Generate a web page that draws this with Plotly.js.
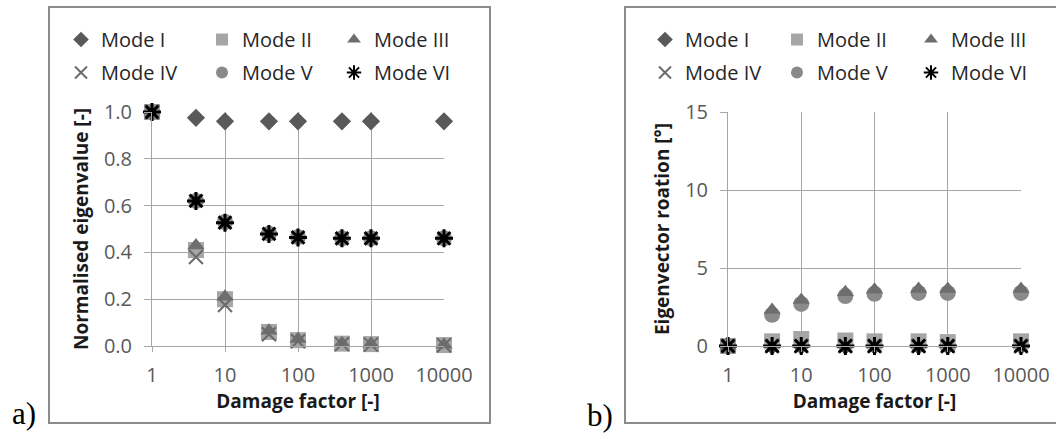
<!DOCTYPE html>
<html><head><meta charset="utf-8">
<script src="https://cdn.plot.ly/plotly-3.0.1.min.js"></script>
<style>html,body{margin:0;padding:0;background:#fff}#chart{width:1056px;height:435px}</style>
</head><body><div id="chart"></div>
<script>
// ---- data ----
const damageFactor = [1, 4, 10, 40, 100, 400, 1000, 10000];
const xTickVals = [1, 10, 100, 1000, 10000];
const xTickText = ["1", "10", "100", "1000", "10000"];
const modeNames = ["Mode I", "Mode II", "Mode III", "Mode IV", "Mode V", "Mode VI"];

// a) normalised eigenvalue [-]
const eigModeI   = [1.0, 0.975, 0.96, 0.96, 0.96, 0.96, 0.96, 0.96];
const eigModeII  = [1.0, 0.41, 0.20, 0.06, 0.025, 0.010, 0.008, 0.004];
const eigModeIII = [1.0, 0.43, 0.21, 0.065, 0.030, 0.012, 0.010, 0.005];
const eigModeIV  = [1.0, 0.38, 0.175, 0.05, 0.020, 0.008, 0.006, 0.003];
const eigModeV   = [1.0, 0.62, 0.53, 0.48, 0.465, 0.46, 0.46, 0.46];
const eigModeVI  = [1.0, 0.62, 0.527, 0.479, 0.464, 0.46, 0.46, 0.46];

// b) eigenvector rotation [deg]
const rotModeI   = [0, 0, 0, 0, 0, 0, 0, 0];
const rotModeII  = [0, 0.30, 0.45, 0.35, 0.30, 0.30, 0.25, 0.30];
const rotModeIII = [0, 2.30, 2.95, 3.45, 3.60, 3.65, 3.65, 3.65];
const rotModeIV  = [0, 0, 0, 0, 0, 0, 0, 0];
const rotModeV   = [0, 2.00, 2.70, 3.20, 3.35, 3.40, 3.40, 3.40];
const rotModeVI  = [0, 0, 0, 0, 0, 0, 0, 0];

// ---- styles ----
const W = 1056, H = 435;
const px = v => v / W;
const py = v => 1 - v / H;
const FONT = "Open Sans";

const markers = [
  {symbol: "diamond", size: 14, color: "#595959"},
  {symbol: "square", size: 16, color: "#a6a6a6"},
  {symbol: "triangle-up", size: 15, color: "#6e6e6e"},
  {symbol: "x-thin-open", size: 14, color: "#6a6a6a", line: {color: "#6a6a6a", width: 2}},
  {symbol: "circle", size: 16, color: "#8a8a8a"},
  {symbol: "asterisk-open", size: 15, color: "#000000", line: {color: "#000000", width: 3}}
];
// legend columns: I & IV, II & V, III & VI
const legendColL = ["legend", "legend2", "legend3", "legend", "legend2", "legend3"];
const legendColR = ["legend4", "legend5", "legend6", "legend4", "legend5", "legend6"];

const eigSeries = [eigModeI, eigModeII, eigModeIII, eigModeIV, eigModeV, eigModeVI];
const rotSeries = [rotModeI, rotModeII, rotModeIII, rotModeIV, rotModeV, rotModeVI];

const traces = [];
eigSeries.forEach((ys, i) => {
  traces.push({
    type: "scatter", mode: "markers", name: modeNames[i],
    x: damageFactor, y: ys, xaxis: "x", yaxis: "y",
    marker: markers[i], cliponaxis: false,
    legend: legendColL[i], legendgroup: "a" + i
  });
});
// in chart b, draw Mode V before Mode III so the triangles sit on top
const orderB = [0, 1, 4, 2, 3, 5];
orderB.forEach(i => {
  traces.push({
    type: "scatter", mode: "markers", name: modeNames[i],
    x: damageFactor, y: rotSeries[i], xaxis: "x2", yaxis: "y2",
    marker: markers[i], cliponaxis: false,
    legend: legendColR[i], legendgroup: "b" + i
  });
});

const gridC = "#a6a6a6";
const tickFont = {family: FONT, size: 20, color: "#595959"};
const titleFont = {family: FONT, size: 19, color: "#1a1a1a", weight: "bold"};

function xAxis(dom, anchor) {
  return {
    type: "log", range: [0, 4], domain: dom, anchor: anchor,
    tickmode: "array", tickvals: xTickVals, ticktext: xTickText,
    showgrid: true, gridcolor: gridC, gridwidth: 1,
    showline: true, linecolor: gridC, linewidth: 1,
    ticks: "outside", ticklen: 5, tickcolor: gridC,
    tickfont: tickFont, ticklabelstandoff: 6, zeroline: false,
    title: {text: "Damage factor [-]", font: titleFont, standoff: 2}
  };
}
function yAxis(dom, anchor, range, dtick, fmt, title) {
  return {
    range: range, domain: dom, anchor: anchor, dtick: dtick, tick0: 0, tickformat: fmt,
    showgrid: true, gridcolor: gridC, gridwidth: 1,
    showline: true, linecolor: gridC, linewidth: 1,
    ticks: "outside", ticklen: 7, tickcolor: gridC,
    tickfont: tickFont, ticklabelstandoff: 8, zeroline: false,
    title: {text: title, font: titleFont, standoff: 10}
  };
}

const yDom = [py(346), py(112)];
function legendAt(xText, yTop) {
  return {
    x: px(xText - 40), y: py(yTop), xanchor: "left", yanchor: "top",
    orientation: "v", bgcolor: "rgba(0,0,0,0)", borderwidth: 0,
    font: {family: FONT, size: 20, color: "#262626"},
    tracegroupgap: 4, itemsizing: "constant", traceorder: "grouped"
  };
}

const layout = {
  width: W, height: H, autosize: false,
  margin: {l: 0, r: 0, t: 0, b: 0, pad: 0},
  paper_bgcolor: "#ffffff", plot_bgcolor: "rgba(0,0,0,0)",
  showlegend: true,
  xaxis: xAxis([px(152), px(444)], "y"),
  yaxis: yAxis(yDom, "x", [0, 1], 0.2, ".1f", "Normalised eigenvalue [-]"),
  xaxis2: xAxis([px(728), px(1021)], "y2"),
  yaxis2: yAxis(yDom, "x2", [0, 15], 5, "d", "Eigenvector roation [°]"),
  legend: legendAt(101, 20),
  legend2: legendAt(242, 20),
  legend3: legendAt(374, 20),
  legend4: legendAt(685, 20),
  legend5: legendAt(817, 20),
  legend6: legendAt(951, 20),
  shapes: [
    {type: "rect", xref: "paper", yref: "paper", x0: px(49), x1: px(490), y0: py(423), y1: py(7),
     line: {color: "#8c8c8c", width: 2}, fillcolor: "rgba(0,0,0,0)", layer: "below"},
    {type: "rect", xref: "paper", yref: "paper", x0: px(625), x1: px(1060), y0: py(423), y1: py(7),
     line: {color: "#8c8c8c", width: 2}, fillcolor: "rgba(0,0,0,0)", layer: "below"}
  ],
  annotations: [
    {text: "a)", xref: "paper", yref: "paper", x: px(24), y: py(413), xanchor: "center", yanchor: "middle",
     showarrow: false, font: {family: "Liberation Serif", size: 31, color: "#000"}},
    {text: "b)", xref: "paper", yref: "paper", x: px(600), y: py(415), xanchor: "center", yanchor: "middle",
     showarrow: false, font: {family: "Liberation Serif", size: 31, color: "#000"}}
  ]
};

Plotly.newPlot("chart", traces, layout, {displayModeBar: false, staticPlot: true});
</script>
</body></html>
